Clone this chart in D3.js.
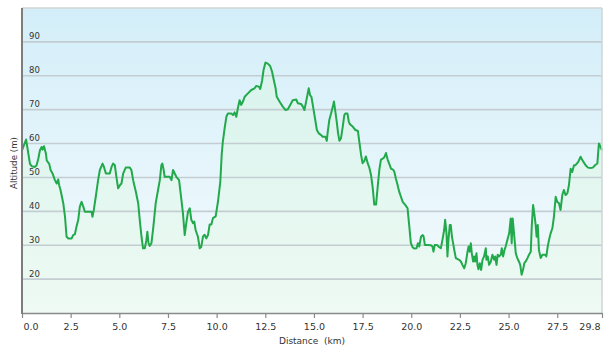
<!DOCTYPE html>
<html><head><meta charset="utf-8">
<script src="https://cdn.jsdelivr.net/npm/d3@7/dist/d3.min.js"></script>
<style>html,body{margin:0;padding:0;background:#fff;}svg{display:block;}</style>
</head><body>
<svg id="chart" width="609" height="350"></svg>
<script>
const distanceKm = [0.00,0.21,0.41,0.50,0.67,0.75,0.84,0.92,1.01,1.06,1.13,1.23,1.27,1.40,1.47,1.57,1.69,1.78,1.86,1.91,1.98,2.12,2.21,2.29,2.38,2.55,2.63,2.72,2.80,2.89,2.97,3.06,3.15,3.23,3.57,3.62,3.69,3.79,3.91,4.00,4.14,4.21,4.31,4.51,4.60,4.68,4.77,4.85,4.94,5.03,5.11,5.20,5.33,5.54,5.62,5.71,5.85,5.97,6.05,6.14,6.22,6.31,6.39,6.44,6.50,6.56,6.65,6.74,6.87,6.99,7.08,7.16,7.21,7.28,7.33,7.59,7.68,7.76,7.93,8.07,8.17,8.27,8.36,8.44,8.53,8.62,8.70,8.79,8.85,8.92,9.04,9.13,
9.21,9.30,9.38,9.47,9.56,9.64,9.73,9.81,9.95,10.07,10.19,10.26,10.32,10.41,10.50,10.58,10.75,10.84,10.92,11.01,11.09,11.18,11.26,11.35,11.44,11.61,11.78,11.95,12.03,12.17,12.24,12.34,12.41,12.51,12.63,12.75,12.85,12.92,13.03,13.09,13.23,13.40,13.54,13.66,13.78,13.91,14.09,14.17,14.34,14.43,14.51,14.60,14.73,14.80,14.87,14.97,15.08,15.15,15.25,15.37,15.45,15.59,15.66,15.71,15.79,15.88,15.97,16.03,16.10,16.17,16.24,16.31,16.39,16.48,16.56,16.62,16.72,16.79,16.85,16.99,17.13,17.26,17.33,17.42,17.50,17.59,17.67,17.76,17.85,17.93,18.02,18.10,18.19,18.27,18.36,18.44,18.61,18.70,18.79,
18.87,18.96,19.08,19.13,19.21,19.30,19.38,19.47,19.56,19.69,19.81,19.90,19.98,20.07,20.15,20.27,20.34,20.41,20.50,20.58,20.63,20.70,20.84,21.01,21.09,21.14,21.21,21.32,21.44,21.52,21.61,21.69,21.74,21.81,21.86,21.91,21.98,22.03,22.09,22.15,22.21,22.29,22.46,22.55,22.63,22.72,22.80,22.89,22.94,23.00,23.06,23.11,23.18,23.23,23.28,23.35,23.40,23.45,23.52,23.59,23.66,23.74,23.83,23.86,23.93,24.00,24.09,24.17,24.26,24.31,24.38,24.44,24.51,24.60,24.65,24.72,24.79,24.85,24.94,25.03,25.11,25.16,25.21,25.28,25.37,25.45,25.53,25.60,25.67,25.74,25.81,25.88,25.97,26.05,26.14,26.19,26.26,26.32,26.39,26.44,26.50,26.56,26.65,26.74,26.87,26.94,27.01,27.08,27.16,27.25,27.33,27.42,27.50,27.59,27.67,27.76,27.84,27.93,28.02,28.10,28.19,28.27,28.36,28.44,28.58,28.70,28.79,28.96,29.08,29.21,29.33,29.44,29.56,29.64,29.73,29.80];

const altitudeM = [58,61.2,54,53.3,53.1,53.6,55.6,58,59,58.2,59.2,57,55,54,52.2,51.2,49.2,48.2,49.4,47.7,46.3,42.4,38.4,32.5,32,32,33,33.3,35.5,37.5,41.4,42.8,41.4,39.9,39.9,38.4,40.4,44.3,49.2,52.2,54.1,53.1,51.2,51.2,53.1,54.1,53.6,50.2,46.8,47.7,48.2,51.2,52.9,52.9,52.2,49.2,45.8,42.4,37.5,32.5,29.1,29.1,31.5,34,30.6,29.8,30.6,35,42.4,46.3,49.2,53.6,54.1,52.2,50.2,50.2,49.2,52.2,50.2,49.2,44.4,39.4,33,36.5,39.9,40.9,37.5,36.5,37,34.5,32.5,29.1,
29.5,32.6,33.1,32,33.1,36.1,36.1,38,38.5,42.9,48.8,56.7,60.6,64.5,67.9,68.9,68.9,68.4,69.2,67.9,70.4,72.8,71.4,72.4,73.8,74.8,75.8,76.3,77,76.8,76.1,78.7,81.7,83.9,83.6,82.9,81.2,79.2,76.3,73.8,72.4,70.9,69.9,70.1,71.4,72.8,73,71.9,71.7,70.9,69.9,72.4,76.3,74.3,73.8,70.4,66.5,64,63,62.5,62,62,60.8,63.5,67,68.9,70.9,72.4,69.4,66.5,63,60.8,61.6,65,68.4,68.9,68.9,66.5,65.7,65,64,63.7,60.6,56.7,54.2,54.9,56.2,54.2,52.8,50.8,46.9,42,42,46.9,52.3,55.2,55.9,57.2,55.2,
54,52.6,52.2,51.7,49.7,47.7,45.8,44.3,42.8,41.9,40.9,35.5,30.6,29.4,29,29.1,30.6,29.6,32.5,33,32.7,30.1,30.1,30,29.6,28.1,30.1,30.1,29.4,29.1,31.8,34.5,37.5,33.5,26.7,31.6,36,36,32.5,30.6,28.6,26.2,25.7,25.2,24.2,23.2,24.7,28.1,29.6,28.1,30.6,27.6,25.2,26.7,25.2,27.6,24.2,22.9,24.7,22.7,25.7,26.7,29.1,25.7,26.7,24.2,25.2,27.2,25.7,26.7,24.2,27.2,26.7,27.2,29.1,26.7,28.6,29.6,31.6,33.5,37.9,30.6,37.9,33.5,27.6,26.2,25.2,24.2,21.3,22.7,24.7,25.2,26.2,27.2,28.1,35.5,41.9,39.4,36,32.5,36,28.6,26.2,27.2,27.2,26.7,29.6,31.6,33.5,35,38.4,44.3,42.8,42.4,40.4,44.8,46.3,44.8,45.3,47.7,52.6,51.6,53.6,53.6,54.6,56.1,55.1,53.6,52.9,52.8,52.9,53.6,54.1,60,59,58];

const xTickValues = [0, 2.5, 5, 7.5, 10, 12.5, 15, 17.5, 20, 22.5, 25, 27.5, 29.8];
const yTickValues = [20, 30, 40, 50, 60, 70, 80, 90];
const xTitle = "Distance  (km)";
const yTitle = "Altitude (m)";

const data = distanceKm.map((d, i) => ({d: d, a: altitudeM[i]}));

const svg = d3.select("#chart");
const L = 22, R = 602, T = 8, B = 313;
const x = d3.scaleLinear().domain([0, 29.8]).range([L, R]);
const y = d3.scaleLinear().domain([10, 100]).range([B, T]);

const defs = svg.append("defs");
const bg = defs.append("linearGradient").attr("id", "bg").attr("x1", 0).attr("y1", 0).attr("x2", 0).attr("y2", 1);
bg.append("stop").attr("offset", "0%").attr("stop-color", "#d3eef9");
bg.append("stop").attr("offset", "100%").attr("stop-color", "#f6fbfd");
const ag = defs.append("linearGradient").attr("id", "ag").attr("gradientUnits", "userSpaceOnUse")
  .attr("x1", 0).attr("y1", T).attr("x2", 0).attr("y2", B);
ag.append("stop").attr("offset", "0%").attr("stop-color", "#d4f2ec");
ag.append("stop").attr("offset", "100%").attr("stop-color", "#eefaf3");

svg.append("rect").attr("x", L).attr("y", T).attr("width", R - L).attr("height", B - T).attr("fill", "url(#bg)");

const area = d3.area().x(d => x(d.d)).y0(B).y1(d => y(d.a));
svg.append("path").datum(data).attr("d", area).attr("fill", "url(#ag)");

// gridlines
svg.append("g").selectAll("line").data(yTickValues).join("line")
  .attr("x1", L).attr("x2", R).attr("y1", d => y(d)).attr("y2", d => y(d))
  .attr("stroke", "#c3cdd2").attr("stroke-width", 1.6);

// y labels inside plot
svg.append("g").selectAll("text").data(yTickValues).join("text")
  .attr("x", L + 7).attr("y", d => y(d) - 2.5)
  .attr("font-family", "DejaVu Sans, sans-serif").attr("font-size", "8.5px").attr("fill", "#333")
  .text(d => d);

// line
const line = d3.line().x(d => x(d.d)).y(d => y(d.a));
svg.append("path").datum(data).attr("d", line).attr("fill", "none")
  .attr("stroke", "#22a94b").attr("stroke-width", 2).attr("stroke-linejoin", "round");

// frame
svg.append("line").attr("x1", L).attr("x2", R).attr("y1", T).attr("y2", T).attr("stroke", "#cfd4d6").attr("stroke-width", 1.5);
svg.append("line").attr("x1", R).attr("x2", R).attr("y1", T).attr("y2", B).attr("stroke", "#cfd4d6").attr("stroke-width", 1.5);

// x axis
const xAxis = d3.axisBottom(x).tickValues(xTickValues).tickSize(5).tickSizeOuter(0).tickFormat(d3.format(".1f"));
const gx = svg.append("g").attr("transform", `translate(0,${B})`).call(xAxis);
gx.select(".domain").attr("stroke", "#8a8a8a").attr("stroke-width", 1.5);
gx.selectAll(".tick line").attr("stroke", "#8a8a8a").attr("stroke-width", 1.2);
gx.selectAll(".tick text").attr("font-family", "DejaVu Sans, sans-serif").attr("font-size", "9.5px").attr("fill", "#333").attr("dy", "0.9em")
  .attr("text-anchor", (d, i) => i === 0 ? "start" : (i === xTickValues.length - 1 ? "end" : "middle"))
  .attr("dx", (d, i) => i === 0 ? 1 : (i === xTickValues.length - 1 ? -2 : 0));

// left axis line
svg.append("line").attr("x1", L).attr("x2", L).attr("y1", T).attr("y2", B + 1).attr("stroke", "#7d7d7d").attr("stroke-width", 2);

// titles
svg.append("text").attr("x", (L + R) / 2).attr("y", 344).attr("text-anchor", "middle")
  .attr("font-family", "DejaVu Sans, sans-serif").attr("font-size", "9px").attr("fill", "#333")
  .style("white-space", "pre").text(xTitle);
svg.append("text").attr("transform", "translate(17,163) rotate(-90)").attr("text-anchor", "middle")
  .attr("font-family", "DejaVu Sans, sans-serif").attr("font-size", "8.7px").attr("fill", "#333")
  .text(yTitle);
</script>
</body></html>
